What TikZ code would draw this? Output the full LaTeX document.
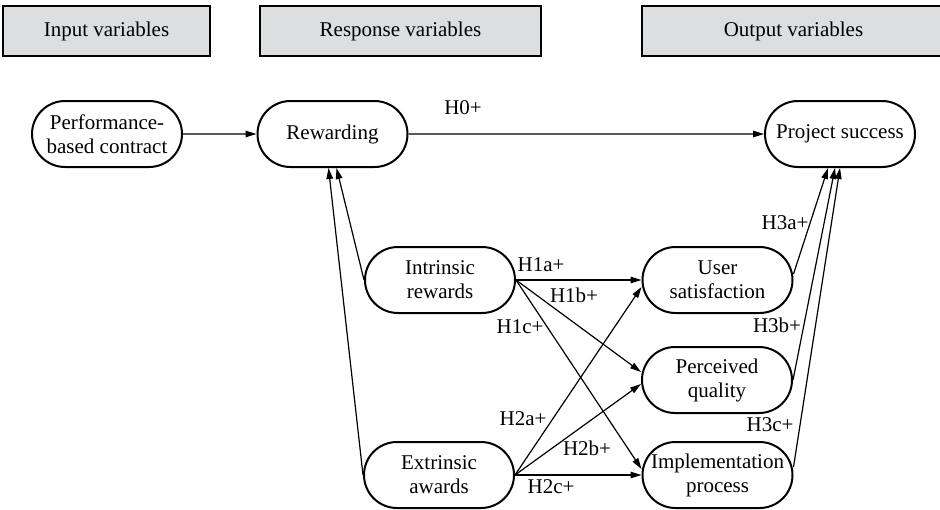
\documentclass[tikz,border=0pt]{standalone}
\usepackage{fontspec}
\setmainfont{Liberation Serif}
\usetikzlibrary{shapes.misc,arrows.meta}
\definecolor{hdrfill}{RGB}{221,222,224}
\begin{document}
\begin{tikzpicture}[x=1pt,y=-1pt,
  font=\fontsize{21}{24}\selectfont,
  header/.style={draw=black, line width=1.5pt, fill=hdrfill, inner sep=0pt, minimum height=50pt},
  var/.style={rounded rectangle, draw=black, line width=2pt, minimum width=150pt,
              minimum height=66pt, inner sep=0pt, align=center},
  link/.style={line width=1.2pt, -{Triangle[length=11pt,width=6.5pt]}},
  hyp/.style={inner sep=1pt}]
\useasboundingbox (0,0) rectangle (940,509);

% column headers
\node[header, minimum width=207pt] (hin)  at (106.5,31) {Input variables};
\node[header, minimum width=281pt] (hres) at (400.5,31) {Response variables};
\node[header, minimum width=303pt] (hout) at (793.5,31) {Output variables};

% variables
\node[var] (perf) at (107,134)   {Performance-\\based contract};
\node[var] (rew)  at (332.5,134) {Rewarding};
\node[var] (ps)   at (840,134)   {Project success};
\node[var] (intr) at (440,280)   {Intrinsic\\rewards};
\node[var] (extr) at (439,475)   {Extrinsic\\awards};
\node[var] (user) at (717.5,280) {User\\satisfaction};
\node[var] (perc) at (717,380)   {Perceived\\quality};
\node[var] (impl) at (717.5,475) {Implementation\\process};

% paths
\draw[link] (perf) -- (rew);
\draw[link] (rew) -- (ps);
\draw[link] (intr.west) -- ([xshift=4pt]rew.south);
\draw[link] (extr.west) -- ([xshift=-4pt]rew.south);

\draw[link] (intr.east) -- (user.west);
\draw[link] (intr.east) -- ([yshift=8pt]perc.west);
\draw[link] (intr.east) -- ([yshift=6pt]impl.west);
\draw[link] (extr.east) -- ([yshift=-7pt]user.west);
\draw[link] (extr.east) -- ([yshift=-4pt]perc.west);
\draw[link] (extr.east) -- (impl.west);

\draw[link] ([yshift=6pt]user.east) -- ([xshift=-12pt]ps.south);
\draw[link] (perc.east) -- ([xshift=-5pt]ps.south);
\draw[link] ([yshift=8pt]impl.east) -- (ps.south);

% hypothesis labels
\node[hyp] (h0)  at (463,108) {H0+};
\node[hyp] (h1a) at (541,265) {H1a+};
\node[hyp] (h1b) at (574,295) {H1b+};
\node[hyp] (h1c) at (520,327) {H1c+};
\node[hyp] (h2a) at (523,419) {H2a+};
\node[hyp] (h2b) at (587,448) {H2b+};
\node[hyp] (h2c) at (551,487) {H2c+};
\node[hyp] (h3a) at (785,223) {H3a+};
\node[hyp] (h3b) at (777,325) {H3b+};
\node[hyp] (h3c) at (770,425) {H3c+};
\end{tikzpicture}
\end{document}
